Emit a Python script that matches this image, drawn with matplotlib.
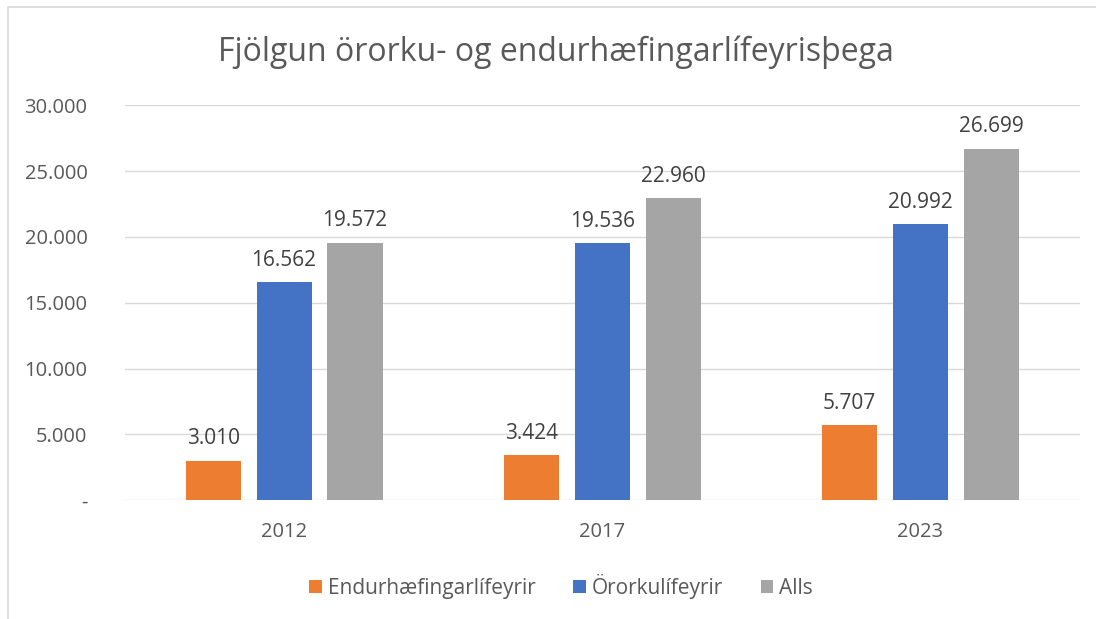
import numpy as np
import matplotlib.pyplot as plt
from matplotlib.patches import Rectangle

years = ["2012", "2017", "2023"]
endurhaefing = [3010, 3424, 5707]
ororku = [16562, 19536, 20992]
alls = [19572, 22960, 26699]
series_names = ["Endurhæfingarlífeyrir", "Örorkulífeyrir", "Alls"]
yticks = [0, 5000, 10000, 15000, 20000, 25000, 30000]
ytick_labels = ["-", "5.000", "10.000", "15.000", "20.000", "25.000", "30.000"]

colors = ["#ED7D31", "#4472C4", "#A5A5A5"]
txt = "#595959"

plt.rcParams['font.family'] = ['Open Sans', 'DejaVu Sans']

fig = plt.figure(figsize=(10.96, 6.19), dpi=100)
ax = fig.add_axes([0.114, 0.192, 0.871, 0.638])

# light frame around the chart (only top and left edges fall inside the image)
fig.patches.append(Rectangle((0.007, -0.2), 1.2, 1.189, transform=fig.transFigure,
                             fill=False, edgecolor="#D9D9D9", linewidth=1.2))

def fmt(v):
    return f"{v:,}".replace(",", ".")

x = np.arange(len(years))
w = 0.173
step = 0.223
for i, (vals, name) in enumerate(zip([endurhaefing, ororku, alls], series_names)):
    bars = ax.bar(x + (i - 1) * step, vals, w, color=colors[i], label=name, zorder=3)
    for b, v in zip(bars, vals):
        ax.text(b.get_x() + b.get_width() / 2, v + 850, fmt(v), ha="center", va="bottom",
                fontsize=15, color="#404040")

ax.set_xlim(-0.5, 2.5)
ax.set_ylim(0, 30000)
ax.set_yticks(yticks)
ax.set_yticklabels(ytick_labels)
ax.set_xticks(x)
ax.set_xticklabels(years)
ax.tick_params(axis="both", length=0, labelsize=14.5, colors=txt)
ax.tick_params(axis="y", pad=27)
ax.tick_params(axis="x", pad=16)
ax.grid(axis="y", color="#D9D9D9", linewidth=1, zorder=0)
for s in ax.spines.values():
    s.set_visible(False)

fig.text(0.507, 0.915, "Fjölgun örorku- og endurhæfingarlífeyrisþega", ha="center", va="center",
         fontsize=23, color=txt)

fig.legend(loc="center", bbox_to_anchor=(0.512, 0.053), ncol=3, frameon=False, fontsize=15,
           handlelength=0.6, handleheight=0.6, handletextpad=0.3, columnspacing=1.8,
           labelcolor=txt)

fig.savefig("out.png", dpi=100)
